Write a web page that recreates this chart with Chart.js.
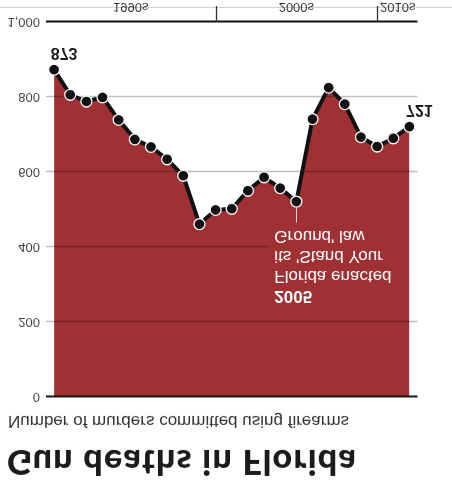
<!DOCTYPE html>
<html>
<head>
<meta charset="utf-8">
<script src="https://cdn.jsdelivr.net/npm/chart.js@4.4.1/dist/chart.umd.min.js"></script>
<style>
  html, body { margin: 0; padding: 0; background: #fff; }
  /* the whole graphic is shown upside down, like the reference */
  #page { position: relative; width: 452px; height: 484px; overflow: hidden; transform: scaleY(-1); }
  #title { position: absolute; left: 7px; top: 0px; font: 900 34px Lato, sans-serif; letter-spacing: 1.3px; color: #1b1b1b; white-space: nowrap; }
  #sub { position: absolute; left: 8px; top: 53px; font: 400 17px "Liberation Sans", Arial, sans-serif; color: #333; white-space: nowrap; }
  #chart { position: absolute; left: 0; top: 0; }
</style>
</head>
<body>
<div id="page">
  <div id="title">Gun deaths in Florida</div>
  <div id="sub">Number of murders committed using firearms</div>
  <canvas id="chart" width="452" height="484"></canvas>
</div>
<script>
// data
const years = [1990, 1991, 1992, 1993, 1994, 1995, 1996, 1997, 1998, 1999, 2000, 2001,
               2002, 2003, 2004, 2005, 2006, 2007, 2008, 2009, 2010, 2011, 2012];
const deaths = [873, 806, 788, 799, 739, 687, 667, 634, 590, 461, 499, 502,
                550, 586, 557, 521, 741, 825, 781, 693, 668, 690, 721];
const yTicks = [0, 200, 400, 600, 800, 1000];
const decadeLabels = ['1990s', '2000s', '2010s'];
const decadeBreaks = [2000, 2010];
const noteYear = 2005;
const noteLines = ['2005', 'Florida enacted', "its 'Stand Your", "Ground' law"];
const labelledYears = [1990, 2012];

const RED = '#9f3033';
const points = years.map((y, i) => ({ x: y, y: deaths[i] }));

// grid + decade strip + notes, drawn after the red fill
const extras = {
  id: 'extras',
  afterDatasetDraw(chart, args) {
    if (args.index !== 0) return;
    const ctx = chart.ctx, a = chart.chartArea;
    const xs = chart.scales.x, ys = chart.scales.y;
    ctx.save();
    yTicks.forEach(v => {
      const py = Math.round(ys.getPixelForValue(v)) + 0.5;
      const edge = v === 0 || v === 1000;
      let right = a.right;
      if (v === 400) right = xs.getPixelForValue(2003.3); // cut by the note
      ctx.strokeStyle = edge ? '#111' : 'rgba(0,0,0,0.25)';
      ctx.lineWidth = edge ? 2 : 1.3;
      ctx.beginPath(); ctx.moveTo(a.left, py); ctx.lineTo(right, py); ctx.stroke();
    });
    ctx.restore();
  },
  afterDatasetsDraw(chart) {
    const ctx = chart.ctx, a = chart.chartArea;
    const xs = chart.scales.x, ys = chart.scales.y;
    const meta = chart.getDatasetMeta(1).data;
    ctx.save();
    // decade strip under the 1,000 line
    const base = ys.getPixelForValue(1000);
    ctx.strokeStyle = '#cfcfcf'; ctx.lineWidth = 1;
    ctx.beginPath(); ctx.moveTo(0, base + 14.5); ctx.lineTo(452, base + 14.5); ctx.stroke();
    ctx.strokeStyle = '#333'; ctx.lineWidth = 1.3;
    decadeBreaks.forEach(d => {
      const px = Math.round(xs.getPixelForValue(d)) + 0.5;
      ctx.beginPath(); ctx.moveTo(px, base); ctx.lineTo(px, base + 16); ctx.stroke();
    });
    ctx.fillStyle = '#333';
    ctx.font = '13px "Liberation Sans", Arial, sans-serif';
    ctx.textBaseline = 'middle';
    const b1 = xs.getPixelForValue(decadeBreaks[0]), b2 = xs.getPixelForValue(decadeBreaks[1]);
    ctx.textAlign = 'center';
    ctx.fillText(decadeLabels[0], (a.left + b1) / 2, base + 15);
    ctx.fillText(decadeLabels[1], (b1 + b2) / 2, base + 15);
    ctx.textAlign = 'left';
    ctx.fillText(decadeLabels[2], b2 + 3, base + 15);

    // value labels at both ends
    ctx.fillStyle = '#1b1b1b';
    ctx.font = 'bold 16px "Liberation Sans", Arial, sans-serif';
    ctx.textAlign = 'center';
    labelledYears.forEach(yr => {
      const i = years.indexOf(yr), p = meta[i];
      ctx.fillText(String(deaths[i]), p.x + 10, p.y + 17);
    });

    // 2005 note
    const i5 = years.indexOf(noteYear), p5 = meta[i5];
    ctx.strokeStyle = 'rgba(255,255,255,0.75)'; ctx.lineWidth = 1;
    ctx.beginPath(); ctx.moveTo(Math.round(p5.x) + 0.5, p5.y - 6); ctx.lineTo(Math.round(p5.x) + 0.5, p5.y - 21); ctx.stroke();
    ctx.fillStyle = '#fff';
    ctx.textAlign = 'left';
    noteLines.forEach((t, k) => {
      ctx.font = (k === 0 ? 'bold ' : '') + '17px "Liberation Sans", Arial, sans-serif';
      ctx.fillText(t, p5.x - 22, p5.y - 94 + k * 20);
    });
    ctx.restore();
  }
};

new Chart(document.getElementById('chart'), {
  type: 'line',
  data: {
    datasets: [{
      // red area only
      data: points,
      fill: 'origin',
      backgroundColor: RED,
      borderWidth: 0,
      pointRadius: 0,
      order: 2
    }, {
      // black line with dots
      data: points,
      fill: false,
      borderColor: '#111',
      borderWidth: 4,
      pointRadius: 5.5,
      pointBackgroundColor: '#111',
      pointBorderColor: '#fff',
      pointBorderWidth: 1.3,
      order: 1
    }]
  },
  options: {
    responsive: false,
    animation: false,
    layout: { padding: { top: 87, bottom: 22, left: 0, right: 34.5 } },
    plugins: { legend: { display: false }, tooltip: { enabled: false } },
    scales: {
      x: { type: 'linear', min: 1989.5, max: 2012.5, display: false },
      y: {
        reverse: true,
        min: 0, max: 1000,
        afterFit(s) { s.width = 46; },
        afterBuildTicks(s) { s.ticks = yTicks.map(v => ({ value: v })); },
        grid: { display: false, drawTicks: false },
        border: { display: false },
        ticks: {
          padding: 6,
          color: '#444',
          font: { family: '"Liberation Sans", Arial, sans-serif', size: 13 },
          callback: v => v.toLocaleString('en-US')
        }
      }
    }
  },
  plugins: [extras]
});
</script>
</body>
</html>
